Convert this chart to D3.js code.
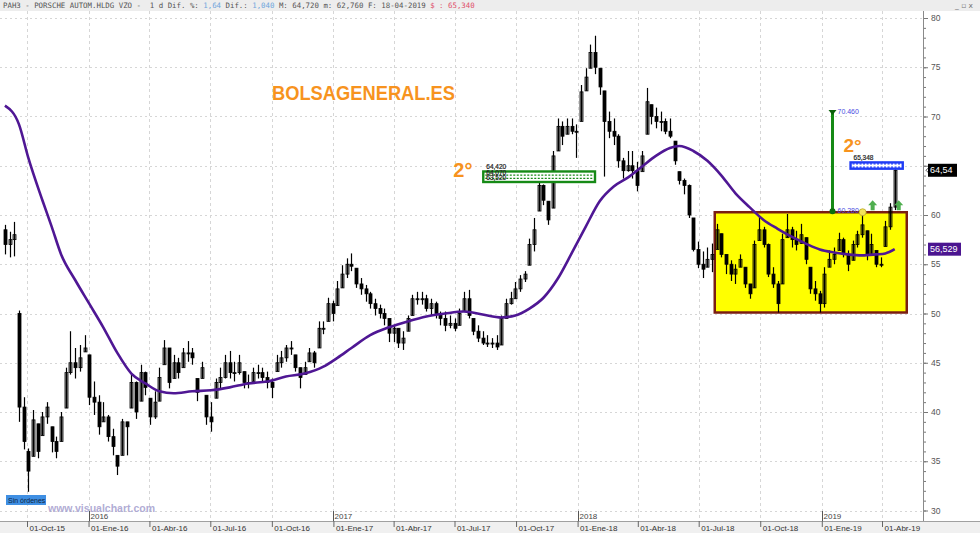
<!DOCTYPE html>
<html><head><meta charset="utf-8">
<script src="https://cdn.jsdelivr.net/npm/d3@7"></script>
<style>body{margin:0;background:#fff;overflow:hidden}svg{display:block}</style>
</head><body>
<svg id="c" width="980" height="533"></svg>
<script>
// ---------------- DATA ----------------
const firstWeek = "2015-08-29"; // weekly bars, one per week
const open = [58.5,57.0,57.5,50.0,40.5,36.0,35.5,38.8,37.6,39.5,
38.5,37.0,37.0,40.4,44.0,45.0,44.5,46.1,45.8,41.5,
41.0,39.0,39.5,37.5,35.6,35.6,39.0,40.4,43.0,41.1,
44.0,41.4,39.5,41.1,44.8,46.5,43.4,45.0,44.5,46.0,
46.0,43.4,43.4,41.7,39.5,41.4,43.0,43.5,45.0,44.0,
44.0,44.1,43.0,43.1,44.0,44.0,43.5,43.0,44.1,45.0,
45.5,46.5,45.8,44.5,43.8,45.1,46.0,46.5,48.5,49.2,
51.0,50.8,52.6,54.0,55.0,54.6,53.0,52.5,52.0,51.0,
50.5,50.0,49.5,48.0,48.5,47.0,48.2,49.8,51.5,51.5,
51.5,50.5,51.0,50.0,49.5,48.8,49.0,48.8,50.2,51.5,
49.5,48.2,47.5,47.0,47.0,47.0,46.8,49.5,51.0,51.5,
52.5,53.5,54.9,57.0,60.4,63.0,61.4,60.7,66.5,69.0,
68.2,69.0,68.5,69.5,72.6,74.9,76.5,74.9,72.6,69.5,
68.5,68.0,65.5,64.5,65.0,64.5,64.4,68.2,71.2,70.0,
69.5,69.5,68.5,67.5,64.4,63.5,63.0,59.7,56.5,55.0,
54.7,55.5,56.5,58.1,56.0,55.0,54.0,54.7,54.7,53.0,
52.6,57.4,58.5,57.0,54.0,53.0,53.0,57.7,58.5,57.5,
57.1,57.7,54.7,52.5,52.0,51.0,54.7,55.5,56.4,57.5,
56.0,55.4,57.0,58.0,58.4,56.0,56.4,55.0,56.8,58.8,
60.8];
const high = [59.0,58.3,59.3,50.3,41.5,36.3,40.2,38.8,40.0,41.0,
38.5,37.5,40.0,44.5,48.2,46.5,46.8,47.8,45.8,43.1,
41.7,41.0,39.7,38.3,35.6,39.3,39.0,43.8,43.1,44.8,
44.1,41.4,42.1,44.5,47.3,46.5,45.8,45.5,46.5,47.2,
46.5,43.4,45.1,41.7,41.0,43.4,44.5,45.8,46.2,45.1,
45.8,44.1,43.8,44.5,44.8,44.5,44.1,43.4,45.8,46.2,
46.8,47.2,45.8,44.5,45.1,46.5,46.2,49.2,49.2,51.6,
51.3,53.3,54.9,55.6,56.1,54.6,53.6,52.9,52.2,51.5,
50.9,50.5,49.5,48.8,48.5,48.2,49.8,51.9,52.2,52.2,
51.9,51.5,51.2,50.2,50.2,49.8,49.5,50.5,52.2,52.4,
49.5,48.8,48.2,47.8,47.5,47.8,49.8,51.5,52.2,53.2,
53.9,54.3,57.6,59.7,63.4,63.1,61.4,66.5,69.8,69.5,
69.8,69.8,69.2,73.2,74.9,77.3,78.2,74.9,72.6,70.5,
69.8,68.2,65.8,66.5,66.5,65.4,66.5,72.9,71.2,70.9,
70.5,69.8,69.8,67.5,64.4,63.7,63.1,59.7,57.3,56.3,
56.7,57.1,59.1,58.1,56.0,55.4,55.0,56.0,54.7,53.0,
57.4,59.8,58.8,57.1,54.7,53.3,58.1,60.1,58.8,58.4,
59.1,57.7,54.7,53.3,52.3,54.7,56.4,56.7,58.2,57.7,
56.4,57.4,58.4,60.1,58.4,58.1,56.4,55.7,59.4,61.2,
64.72];
const low = [56.0,55.7,55.8,39.0,36.2,31.9,35.5,35.3,37.6,38.8,
35.9,35.3,37.0,40.4,43.8,43.4,44.1,46.1,40.7,39.7,
37.7,39.0,37.0,35.6,33.6,35.6,35.6,40.4,39.3,41.1,
41.7,38.7,39.3,41.1,44.8,42.4,43.4,43.4,44.5,45.1,
44.8,41.1,43.4,38.7,38.0,41.4,42.4,43.4,43.4,43.1,
43.8,42.4,42.4,43.1,43.4,43.1,42.4,41.4,44.1,44.5,
45.1,45.8,44.1,42.4,43.8,45.1,44.5,46.5,47.9,49.2,
49.2,50.8,52.6,53.6,54.3,52.6,51.9,51.2,50.5,49.8,
49.5,48.8,47.1,47.1,46.5,46.3,48.2,49.8,50.9,50.9,
50.2,49.8,49.5,48.8,48.2,48.5,48.2,48.8,50.2,49.5,
47.8,47.1,46.8,46.6,46.5,46.3,46.8,49.5,50.9,51.5,
52.2,53.2,54.9,56.3,60.4,61.0,59.0,60.7,66.5,67.1,
68.2,68.2,65.8,69.5,72.6,74.9,74.3,72.2,63.9,67.8,
67.1,64.8,63.7,64.4,63.7,62.4,64.4,68.2,69.2,68.8,
68.5,68.2,67.8,65.1,63.1,62.1,59.7,56.3,54.6,53.6,
54.7,54.2,56.5,55.7,54.0,53.3,53.0,54.7,52.6,51.5,
52.6,57.4,56.7,53.7,52.6,50.1,53.0,57.7,56.7,56.4,
57.1,55.0,52.0,51.3,50.1,50.6,54.7,55.0,56.4,55.7,
54.3,55.4,56.7,57.7,55.4,56.0,54.7,54.7,56.8,58.5,
60.5];
const close = [57.0,57.5,58.0,40.5,37.0,34.0,39.2,36.0,39.5,40.5,
37.0,36.0,39.5,44.0,45.0,44.5,45.5,46.5,41.5,41.0,
38.5,39.5,37.5,36.5,34.5,39.0,38.5,43.0,40.0,44.0,
42.5,39.5,41.0,43.5,46.5,43.0,45.0,44.0,46.0,46.0,
45.5,42.0,44.5,39.5,39.0,43.0,43.5,45.0,44.0,44.0,
45.0,43.0,43.0,44.0,44.0,43.5,43.0,42.5,45.0,45.5,
46.5,46.5,44.5,43.5,44.5,46.0,45.0,48.5,48.5,51.0,
50.0,52.5,54.0,55.0,54.8,53.0,52.5,52.0,51.0,50.5,
50.0,49.5,48.0,48.5,47.0,47.5,49.5,51.5,51.5,51.5,
50.5,51.0,50.0,49.5,48.8,49.0,48.5,50.0,51.5,49.8,
48.2,47.5,47.0,47.0,47.0,46.6,49.5,51.0,51.5,52.5,
53.5,54.0,57.0,58.5,63.0,61.5,59.5,66.0,69.0,68.0,
69.0,68.5,68.5,72.5,74.0,76.5,75.0,73.0,69.5,68.5,
68.0,65.5,64.5,65.0,64.5,63.0,66.0,71.5,70.0,69.5,
69.5,68.5,68.0,65.5,63.5,63.0,60.0,56.5,55.0,54.5,
55.5,56.0,58.5,56.0,55.0,54.0,54.5,55.5,53.0,52.0,
57.0,58.5,57.0,54.0,53.0,51.0,57.5,58.5,57.5,57.0,
58.0,55.5,52.5,52.0,51.0,54.0,55.5,56.0,57.5,56.0,
55.0,57.0,58.0,59.0,56.0,57.0,55.0,55.0,58.8,60.8,
64.54];
// moving average (purple), sampled at week indices
const maWeek = [0,3,5,8,10,12,15,18,21,24,27,30,33,36,40,44,48,52,56,60,
64,68,71,74,78,82,86,90,94,98,102,106,109,112,115,118,121,124,127,130,
133,136,139,142,144,147,150,153,156,159,162,165,168,171,174,177,180,183,186,188,190];
const maValue = [71.1,69.2,65.8,61.5,58.8,56.0,53.4,51.0,48.6,46.0,43.9,42.9,42.1,41.9,42.1,42.2,42.5,42.9,43.1,43.6,
43.9,44.6,45.5,46.5,47.8,48.6,49.2,49.7,50.0,50.2,49.9,49.6,49.8,50.5,51.6,53.5,56.1,58.8,61.4,62.9,
63.8,64.9,66.0,66.8,67.0,66.5,65.5,64.0,62.2,60.8,59.5,58.6,57.8,57.1,56.5,56.2,56.0,55.9,56.0,56.1,56.529];
// axes
const quarterDates = ["2015-10-01","2016-01-01","2016-04-01","2016-07-01","2016-10-01","2017-01-01","2017-04-01","2017-07-01","2017-10-01","2018-01-01","2018-04-01","2018-07-01","2018-10-01","2019-01-01","2019-04-01"];
const quarterLabels = ["01-Oct-15","01-Ene-16","01-Abr-16","01-Jul-16","01-Oct-16","01-Ene-17","01-Abr-17","01-Jul-17","01-Oct-17","01-Ene-18","01-Abr-18","01-Jul-18","01-Oct-18","01-Ene-19","01-Abr-19"];
const yearDates = ["2016-01-01","2017-01-01","2018-01-01","2019-01-01"];
const yearLabels = ["2016","2017","2018","2019"];
const yMajor = [30,35,40,45,50,55,60,65,70,75,80];
// annotations
const rangeBox = {start:"2018-07-25", end:"2019-05-08", top:60.28, bottom:50.1};
const greenZone = {start:"2017-08-13", end:"2018-01-27", top:64.42, bottom:63.35};
const greenZoneLabels = ["64,420","64,070","63,520"];
const blueZone = {start:"2019-02-13", end:"2019-05-02", top:65.34, bottom:64.7};
const blueZoneLabels = ["65,348"];
const target = {date:"2019-01-17", from:60.28, to:70.46, labels:["70.460","60.280"]};
const upArrows = ["2019-03-18","2019-04-26"];
const markerDot = {date:"2019-03-03", value:60.28};
const lastPrice = 64.54, lastMA = 56.529;

// ---------------- CHART ----------------
const parse = d3.timeParse("%Y-%m-%d");
const svg = d3.select("#c");
const x = d3.scaleTime().domain([new Date(2015,9,1), new Date(2019,3,1)]).range([27,882]);
const y = d3.scaleLinear().domain([30,80]).range([510.5,18]);
const plotRight = 923, plotTop = 11, plotBottom = 521;
const FONT = "Liberation Sans, Arial, sans-serif";

const start = parse(firstWeek);
const bars = close.map((c,i)=>({d:d3.timeDay.offset(start,7*i), o:open[i], h:high[i], l:low[i], c:c}));

// header
svg.append("rect").attr("x",0).attr("y",0).attr("width",980).attr("height",plotTop).attr("fill","#ededed");
// bottom band
svg.append("rect").attr("x",0).attr("y",plotBottom).attr("width",980).attr("height",533-plotBottom).attr("fill","#f0f0f0");

// grid
const grid = svg.append("g");
grid.selectAll("line.v").data(quarterDates).join("line")
  .attr("x1",d=>Math.round(x(parse(d)))+0.5).attr("x2",d=>Math.round(x(parse(d)))+0.5)
  .attr("y1",plotTop).attr("y2",plotBottom)
  .attr("stroke","#d6d6d6").attr("stroke-dasharray","3,3");
grid.selectAll("line.h").data(yMajor).join("line")
  .attr("x1",0).attr("x2",plotRight)
  .attr("y1",d=>Math.round(y(d))+0.5).attr("y2",d=>Math.round(y(d))+0.5)
  .attr("stroke","#d6d6d6").attr("stroke-dasharray","2,3");

// yellow range box
svg.append("rect")
  .attr("x",x(parse(rangeBox.start))).attr("y",y(rangeBox.top))
  .attr("width",x(parse(rangeBox.end))-x(parse(rangeBox.start)))
  .attr("height",y(rangeBox.bottom)-y(rangeBox.top))
  .attr("fill","#ffff00").attr("stroke","#7a1e12").attr("stroke-width",2.5);

// candles
const cg = svg.append("g");
const cx = d=>Math.round(x(d.d))+0.5;
cg.selectAll("line").data(bars).join("line")
  .attr("x1",cx).attr("x2",cx)
  .attr("y1",d=>y(d.h)).attr("y2",d=>y(d.l))
  .attr("stroke","#000").attr("stroke-width",1.2);
cg.selectAll("rect").data(bars).join("rect")
  .attr("x",d=>cx(d)-1.5).attr("width",3)
  .attr("y",d=>y(Math.max(d.o,d.c)))
  .attr("height",d=>Math.max(1,Math.abs(y(d.o)-y(d.c))))
  .attr("fill","#000")
  .attr("fill-opacity",d=>d.c>=d.o?0.4:1)
  .attr("stroke","#000").attr("stroke-width",0.8);

// moving average
const maPts = maWeek.map((w,i)=>({d:bars[w].d, v:maValue[i]}));
svg.append("path").datum(maPts)
  .attr("d",d3.line().x(d=>x(d.d)).y(d=>y(d.v)).curve(d3.curveMonotoneX))
  .attr("fill","none").attr("stroke","#4f1794").attr("stroke-width",2.6);

// zones
function zone(z,col,labels,step){
  const x0=x(parse(z.start)), x1=x(parse(z.end)), y0=y(z.top), y1=y(z.bottom);
  svg.append("rect").attr("x",x0).attr("y",y0).attr("width",x1-x0).attr("height",y1-y0)
    .attr("fill","#fff").attr("stroke",col).attr("stroke-width",2.4);
  [-1.6,1.6].forEach(o=>svg.append("line").attr("x1",x0+2).attr("x2",x1-2)
    .attr("y1",(y0+y1)/2+o).attr("y2",(y0+y1)/2+o)
    .attr("stroke",col).attr("stroke-width",1.2).attr("stroke-dasharray","2,1.5"));
  labels.forEach((t,k)=>{
    svg.append("text").attr("x",x0+3).attr("y",y0-2+k*step).text(t)
      .attr("font-family",FONT).attr("font-size",6.5).attr("fill","#222")
      .attr("stroke","#222").attr("stroke-width",0.2);
  });
}
zone(greenZone,"#168a16",greenZoneLabels,5.5);
zone(blueZone,"#1f3cf5",blueZoneLabels,0);

// target vertical arrow
{
  const tx = Math.round(x(parse(target.date)))+0.5;
  svg.append("line").attr("x1",tx).attr("x2",tx).attr("y1",y(target.to)).attr("y2",y(target.from))
    .attr("stroke","#158a15").attr("stroke-width",3);
  svg.append("path").attr("d",`M${tx-4},${y(target.to)-2}h8l-4,5z`).attr("fill","#0c5f0c");
  svg.append("circle").attr("cx",tx).attr("cy",y(target.from)-1).attr("r",3).attr("fill","#0c6f0c");
  svg.append("text").attr("x",tx+5).attr("y",y(target.to)+2.5).text(target.labels[0])
    .attr("font-family",FONT).attr("font-size",7).attr("fill","#4a4adf");
  svg.append("text").attr("x",tx+5).attr("y",y(target.from)+1).text(target.labels[1])
    .attr("font-family",FONT).attr("font-size",7).attr("fill","#4a4adf");
}
// small up arrows
upArrows.forEach(dt=>{
  const ax = x(parse(dt)), ay = y(rangeBox.top)-2;
  svg.append("path").attr("d",`M${ax},${ay-10}l4.5,5h-2.5v5h-4v-5h-2.5z`).attr("fill","#4fae4f");
});
svg.append("circle").attr("cx",x(parse(markerDot.date))).attr("cy",y(markerDot.value)).attr("r",3.5)
  .attr("fill","#f2e35a").attr("stroke","#b9a82a").attr("stroke-width",0.8);

// orange texts
svg.append("text").attr("x",272).attr("y",100).text("BOLSAGENERAL.ES")
  .attr("font-family",FONT).attr("font-weight","bold").attr("font-size",21)
  .attr("textLength",183).attr("lengthAdjust","spacingAndGlyphs").attr("fill","#f7931e");
svg.append("text").attr("x",x(parse(greenZone.start))-30).attr("y",177).text("2°")
  .attr("font-family",FONT).attr("font-weight","bold").attr("font-size",20).attr("fill","#f7931e");
svg.append("text").attr("x",x(parse(blueZone.start))-7).attr("y",152).text("2°")
  .attr("font-family",FONT).attr("font-weight","bold").attr("font-size",19).attr("fill","#f7931e");

// right axis
const ra = svg.append("g").attr("transform",`translate(${plotRight},0)`);
ra.call(d3.axisRight(y).tickValues(d3.range(30,81,1)).tickSize(3).tickFormat(""))
  .call(g=>g.select(".domain").remove());
ra.append("g").call(d3.axisRight(y).tickValues(yMajor).tickSize(5).tickPadding(3)
    .tickFormat(d=>Math.abs(d-lastPrice)<1?"":d))
  .call(g=>g.select(".domain").remove());
ra.selectAll("line").attr("stroke","#777");
ra.selectAll("text").attr("font-family",FONT).attr("font-size",8.5).attr("fill","#555");
svg.append("line").attr("x1",plotRight+0.5).attr("x2",plotRight+0.5).attr("y1",plotTop).attr("y2",plotBottom)
  .attr("stroke","#8a8a8a");

// price labels on axis
function priceTag(v,txt,bg,w){
  svg.append("rect").attr("x",928).attr("y",y(v)-6.5).attr("width",w).attr("height",13).attr("fill",bg);
  svg.append("text").attr("x",930).attr("y",y(v)+3).text(txt)
    .attr("font-family",FONT).attr("font-size",9).attr("fill","#fff");
}
svg.append("path").attr("d",`M${plotRight+6},${y(lastPrice)-3}l-3,3l3,3`).attr("fill","none").attr("stroke","#555");
priceTag(lastPrice,"64,54","#000",29);
priceTag(lastMA,"56,529","#4b1590",33);

// bottom axis
svg.append("line").attr("x1",0).attr("x2",980).attr("y1",plotBottom+0.5).attr("y2",plotBottom+0.5).attr("stroke","#a0a0a0");
const ba = svg.append("g").attr("transform",`translate(0,${plotBottom})`)
  .call(d3.axisBottom(x).tickValues(quarterDates.map(parse)).tickSize(6).tickFormat((d,i)=>quarterLabels[i]));
ba.select(".domain").remove();
ba.selectAll("line").attr("stroke","#666");
ba.selectAll("text").attr("text-anchor","start").attr("x",2).attr("y",4).attr("dy","0.71em")
  .attr("font-family",FONT).attr("font-size",8).attr("fill","#333");
// year marks
yearDates.forEach((d,i)=>{
  const yx = Math.round(x(parse(d)))+0.5;
  svg.append("line").attr("x1",yx).attr("x2",yx).attr("y1",511).attr("y2",plotBottom).attr("stroke","#555");
  svg.append("text").attr("x",yx+1).attr("y",519).text(yearLabels[i])
    .attr("font-family",FONT).attr("font-size",8).attr("fill","#444");
});

// Sin órdenes & watermark
svg.append("rect").attr("x",6).attr("y",495).attr("width",40).attr("height",10).attr("fill","#3f8fe3");
svg.append("text").attr("x",8).attr("y",503).text("Sin órdenes")
  .attr("font-family",FONT).attr("font-size",7).attr("fill","#0d2340");
svg.append("text").attr("x",48).attr("y",512).text("www.visualchart.com")
  .attr("font-family",FONT).attr("font-weight","bold").attr("font-size",10.5)
  .attr("fill","#a7a2cf").attr("fill-opacity",0.9);

// header text
const ht = svg.append("text").attr("x",3).attr("y",8)
  .attr("font-family","DejaVu Sans Mono, monospace").attr("font-size",7.4).attr("fill","#555")
  .attr("xml:space","preserve").style("white-space","pre");
const parts = [["PAH3 - PORSCHE AUTOM.HLDG VZO -  1 d Dif. %: ","#555"],["1,64","#6fa5dc"],[" Dif.: ","#555"],["1,040","#6fa5dc"],
  [" M: 64,720 m: 62,760 F: 18-04-2019 ","#555"],["$ : 65,340","#e0506a"]];
parts.forEach(p=>ht.append("tspan").text(p[0]).attr("fill",p[1]));
svg.append("text").attr("x",955).attr("y",8).text("_ ▫ x")
  .attr("font-family","DejaVu Sans, sans-serif").attr("font-size",7.5).attr("fill","#777");
</script>
</body></html>
